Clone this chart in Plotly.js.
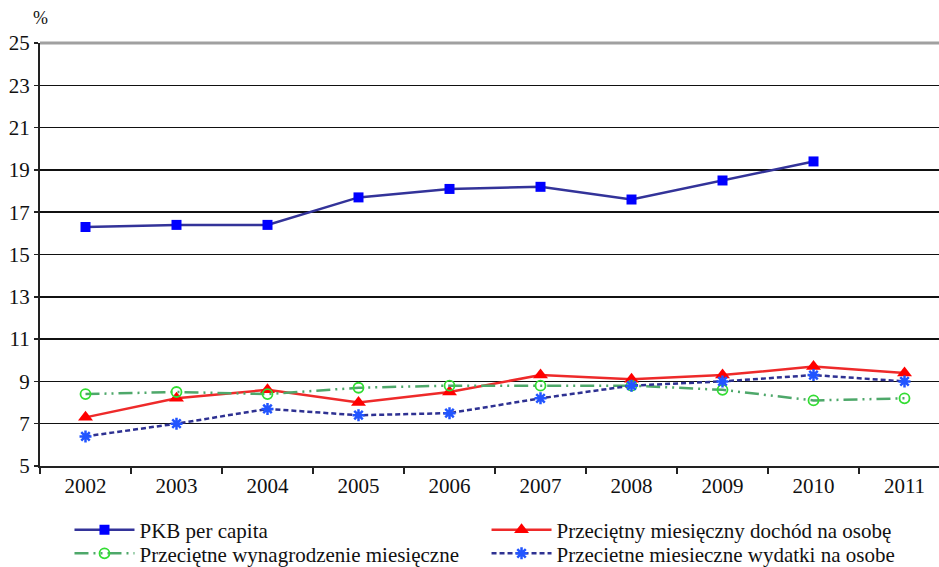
<!DOCTYPE html>
<html>
<head>
<meta charset="utf-8">
<script src="https://cdn.plot.ly/plotly-3.0.1.min.js"></script>
<style>html,body{margin:0;padding:0;background:#fff;}#chart{width:939px;height:567px;}</style>
</head>
<body>
<div id="chart"></div>
<script>
const years = ["2002","2003","2004","2005","2006","2007","2008","2009","2010","2011"];
const pkbPerCapita = [16.3, 16.4, 16.4, 17.7, 18.1, 18.2, 17.6, 18.5, 19.4, null];
const dochod = [7.3, 8.2, 8.6, 8.0, 8.5, 9.3, 9.1, 9.3, 9.7, 9.4];
const wynagrodzenie = [8.4, 8.5, 8.4, 8.7, 8.8, 8.8, 8.8, 8.6, 8.1, 8.2];
const wydatki = [6.4, 7.0, 7.7, 7.4, 7.5, 8.2, 8.8, 9.0, 9.3, 9.0];
const yTicks = [5, 7, 9, 11, 13, 15, 17, 19, 21, 23, 25];

const names = [
  "PKB per capita",
  "Przeciętny miesięczny dochód na osobę",
  "Przeciętne wynagrodzenie miesięczne",
  "Przecietne miesieczne wydatki na osobe"
];

const serif = "'Liberation Serif', 'Times New Roman', serif";

const traces = [
  {x: years, y: pkbPerCapita, name: names[0], type: "scatter", mode: "lines+markers", legend: "legend",
   line: {color: "#333399", width: 2.5},
   marker: {symbol: "square", size: 10, color: "#0000ff"}},
  {x: years, y: dochod, name: names[1], type: "scatter", mode: "lines+markers", legend: "legend2",
   line: {color: "#ee2a2a", width: 2.5},
   marker: {symbol: "triangle-up", size: 13, color: "#ff0000"}},
  {x: years, y: wynagrodzenie, name: names[2], type: "scatter", mode: "lines+markers", legend: "legend3",
   line: {color: "#4ea86a", width: 2.5, dash: "14px,5px,2px,5px,2px,5px"},
   marker: {symbol: "circle-open", size: 10, color: "#33dd33", line: {width: 1.8}}},
  {x: years, y: wydatki, name: names[3], type: "scatter", mode: "lines+markers", legend: "legend4",
   line: {color: "#2e3192", width: 2.5, dash: "5px,3px"},
   marker: {symbol: "asterisk-open", size: 10, color: "#2255ff", line: {width: 2.5, color: "#2255ff"}}}
];

function leg(x, y) {
  return {
    orientation: "v", xref: "paper", yref: "container", x: x, y: y,
    xanchor: "left", yanchor: "middle",
    font: {size: 21, family: serif, color: "#111"}, itemwidth: 60,
    bgcolor: "rgba(0,0,0,0)", tracegroupgap: 0
  };
}

const layout = {
  width: 939, height: 567,
  margin: {l: 40, r: 0, t: 43, b: 101},
  paper_bgcolor: "#fff", plot_bgcolor: "#fff",
  font: {family: serif, size: 21, color: "#111"},
  showlegend: true,
  xaxis: {
    type: "category", range: [-0.5, 9.379],
    showgrid: false, zeroline: false,
    showline: true, linecolor: "#222", linewidth: 2,
    ticks: "outside", tickson: "boundaries", ticklen: 6, tickwidth: 1.5, tickcolor: "#222",
    tickfont: {size: 21, family: serif}
  },
  yaxis: {
    range: [5, 25], tickvals: yTicks, ticktext: yTicks.map(String),
    showgrid: true, gridcolor: "#111", gridwidth: 1.5, zeroline: false,
    showline: true, linecolor: "#222", linewidth: 2,
    ticks: "outside", ticklen: 4, tickwidth: 1.5, tickcolor: "#222",
    tickfont: {size: 21, family: serif}
  },
  shapes: [
    {type: "line", xref: "paper", yref: "paper", x0: 0, x1: 1, y0: 1, y1: 1,
     line: {color: "#a0a0a0", width: 3}}
  ],
  annotations: [
    {text: "%", xref: "paper", yref: "paper", x: 0, y: 1.06, xanchor: "center", yanchor: "middle",
     showarrow: false, font: {size: 18, family: serif}}
  ],
  legend: leg(0.0328, 0.0650),
  legend2: leg(0.4967, 0.0650),
  legend3: leg(0.0328, 0.0235),
  legend4: leg(0.4967, 0.0235)
};

Plotly.newPlot("chart", traces, layout, {displayModeBar: false, staticPlot: true});
</script>
</body>
</html>
